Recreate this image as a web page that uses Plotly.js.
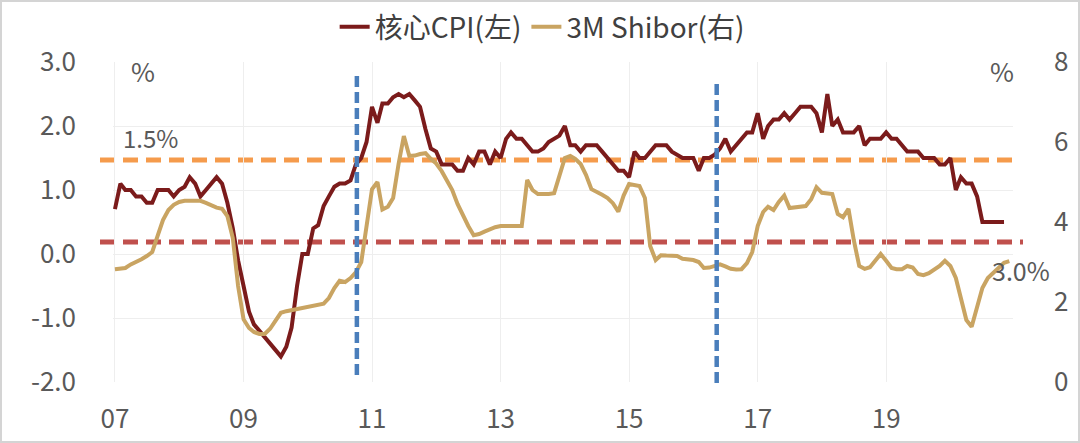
<!DOCTYPE html>
<html>
<head>
<meta charset="utf-8">
<script src="https://cdn.plot.ly/plotly-3.0.1.min.js"></script>
<style>
  html, body { margin: 0; padding: 0; background: #ffffff; }
  #wrap { position: relative; width: 1080px; height: 443px; }
  #chart { width: 1080px; height: 443px; }
  #frame { position: absolute; left: 0; top: 0; width: 1080px; height: 443px; box-sizing: border-box; border: 2px solid #d4d4d4; pointer-events: none; }
</style>
</head>
<body>
<div id="wrap"><div id="chart"></div><div id="frame"></div></div>
<script>
// ---- data ----
const startYear = 2007;
const endYear = 2020;
const months = [];
for (let y = startYear; y <= endYear; y++) {
  for (let m = 1; m <= 12; m++) months.push(y + '-' + String(m).padStart(2, '0') + '-01');
}

// 核心CPI 当月同比, %, 2007-01 .. 2020-11 (left axis)
const coreCPI = [
  0.7, 1.1, 1.0, 1.0, 0.9, 0.9, 0.8, 0.8, 1.0, 1.0, 1.0, 0.9,          // 2007
  1.0, 1.05, 1.2, 1.1, 0.9, 1.0, 1.1, 1.2, 1.1, 0.8, 0.4, -0.1,        // 2008
  -0.5, -0.9, -1.1, -1.2, -1.3, -1.4, -1.5, -1.6, -1.45, -1.15, -0.5, 0.0, // 2009
  0.0, 0.4, 0.45, 0.75, 0.9, 1.05, 1.1, 1.1, 1.15, 1.4, 1.5, 1.75,     // 2010
  2.3, 2.05, 2.35, 2.35, 2.45, 2.5, 2.45, 2.5, 2.4, 2.3, 1.95, 1.65,   // 2011
  1.6, 1.4, 1.4, 1.4, 1.3, 1.3, 1.5, 1.4, 1.6, 1.6, 1.4, 1.6,          // 2012
  1.5, 1.8, 1.9, 1.8, 1.8, 1.7, 1.6, 1.6, 1.65, 1.75, 1.8, 1.85,       // 2013
  2.0, 1.7, 1.7, 1.6, 1.7, 1.7, 1.7, 1.6, 1.5, 1.4, 1.3, 1.3,          // 2014
  1.2, 1.6, 1.5, 1.5, 1.6, 1.7, 1.7, 1.7, 1.6, 1.55, 1.5, 1.5,         // 2015
  1.5, 1.3, 1.5, 1.5, 1.55, 1.65, 1.8, 1.6, 1.7, 1.8, 1.9, 1.9,        // 2016
  2.2, 1.8, 2.0, 2.1, 2.1, 2.2, 2.1, 2.2, 2.3, 2.3, 2.3, 2.2,          // 2017
  1.9, 2.5, 2.0, 2.1, 1.9, 1.9, 1.9, 2.0, 1.7, 1.8, 1.8, 1.8,          // 2018
  1.9, 1.8, 1.8, 1.7, 1.6, 1.6, 1.6, 1.5, 1.5, 1.5, 1.4, 1.4,          // 2019
  1.5, 1.0, 1.2, 1.1, 1.1, 0.9, 0.5, 0.5, 0.5, 0.5, 0.5                // 2020 (to Nov)
];

// 3M Shibor 月均, %, 2007-01 .. 2020-12 (right axis)
const shibor3M = [
  2.82, 2.83, 2.85, 2.94, 3.00, 3.07, 3.15, 3.25, 3.66, 4.05, 4.30, 4.43, // 2007
  4.50, 4.53, 4.53, 4.53, 4.53, 4.48, 4.42, 4.36, 4.33, 4.15, 3.60, 2.40, // 2008
  1.57, 1.35, 1.25, 1.20, 1.20, 1.33, 1.53, 1.73, 1.77, 1.80, 1.83, 1.85, // 2009
  1.89, 1.92, 1.95, 1.96, 2.10, 2.35, 2.53, 2.50, 2.60, 2.74, 3.00, 3.97, // 2010
  4.82, 5.00, 4.31, 4.38, 4.60, 5.45, 6.15, 5.65, 5.66, 5.70, 5.72, 5.58, // 2011
  5.46, 5.27, 5.05, 4.80, 4.45, 4.15, 3.90, 3.67, 3.70, 3.76, 3.82, 3.87, // 2012
  3.90, 3.90, 3.89, 3.89, 3.90, 5.05, 4.80, 4.70, 4.69, 4.70, 4.72, 5.15, // 2013
  5.60, 5.65, 5.58, 5.45, 5.18, 4.82, 4.76, 4.68, 4.60, 4.47, 4.26, 4.66, // 2014
  4.95, 4.93, 4.90, 4.60, 3.40, 3.05, 3.17, 3.16, 3.16, 3.15, 3.08, 3.07, // 2015
  3.05, 3.00, 2.85, 2.86, 2.91, 2.94, 2.89, 2.83, 2.81, 2.82, 2.97, 3.25, // 2016
  3.90, 4.25, 4.38, 4.30, 4.50, 4.66, 4.35, 4.36, 4.38, 4.40, 4.57, 4.87, // 2017
  4.73, 4.72, 4.70, 4.20, 4.12, 4.33, 3.55, 2.90, 2.83, 2.87, 3.03, 3.20, // 2018
  3.03, 2.85, 2.82, 2.82, 2.90, 2.86, 2.70, 2.67, 2.72, 2.80, 2.90, 3.03, // 2019
  2.90, 2.60, 2.10, 1.55, 1.38, 1.85, 2.35, 2.60, 2.72, 2.85, 2.98, 3.02  // 2020
];

const seriesNames = ['核心CPI(左)', '3M Shibor(右)'];
const xTickFormat = '%y';
const leftTickVals = [-2, -1, 0, 1, 2, 3];
const leftTickText = ['-2.0', '-1.0', '0.0', '1.0', '2.0', '3.0'];
const rightTickVals = [0, 2, 4, 6, 8];
const rightTickText = ['0', '2', '4', '6', '8'];
const refCPI = 1.47;        // orange dashed reference, left axis
const refShibor = 3.5;      // red dashed reference, right axis
const eventDates = ['2010-10-07', '2016-05-13'];

// ---- layout helpers (pixel -> paper) ----
const L = 113, R = 1013, T = 62, B = 382;
const px = v => (v - L) / (R - L);
const py = v => (B - v) / (B - T);

const FONT = '"Noto Sans CJK SC", "Noto Sans", sans-serif';
const TXT = '#595959';

const traces = [
  {
    x: months.slice(0, coreCPI.length), y: coreCPI, name: seriesNames[0],
    type: 'scatter', mode: 'lines', yaxis: 'y',
    line: { color: '#7B1B1B', width: 4 }
  },
  {
    x: months.slice(0, shibor3M.length), y: shibor3M, name: seriesNames[1],
    type: 'scatter', mode: 'lines', yaxis: 'y2',
    line: { color: '#C9A462', width: 4 }
  }
];

const shapes = [
  { type: 'line', layer: 'below', xref: 'paper', yref: 'y', x0: px(100), x1: px(1015), y0: refCPI, y1: refCPI,
    line: { color: '#F59B4C', width: 5, dash: '15px,8px' } },
  { type: 'line', layer: 'below', xref: 'paper', yref: 'y2', x0: px(100), x1: px(1023), y0: refShibor, y1: refShibor,
    line: { color: '#C0504D', width: 5, dash: '15px,8px' } },
  { type: 'line', layer: 'above', xref: 'x', yref: 'paper', x0: eventDates[0], x1: eventDates[0], y0: py(375), y1: py(72),
    line: { color: '#4A7EBB', width: 4.5, dash: '11px,5px' } },
  { type: 'line', layer: 'above', xref: 'x', yref: 'paper', x0: eventDates[1], x1: eventDates[1], y0: py(383), y1: py(80),
    line: { color: '#4A7EBB', width: 4.5, dash: '11px,5px' } }
];

const ann = (text, x, y, size) => ({
  text: text, xref: 'paper', yref: 'paper', x: px(x), y: py(y),
  xanchor: 'center', yanchor: 'middle', showarrow: false,
  font: { family: FONT, size: size, color: TXT }
});

const layout = {
  width: 1080, height: 443,
  margin: { l: L, r: 1080 - R, t: T, b: 443 - B, pad: 0 },
  paper_bgcolor: '#ffffff', plot_bgcolor: '#ffffff',
  font: { family: FONT, size: 26, color: TXT },
  showlegend: true,
  legend: {
    orientation: 'h', xref: 'container', yref: 'container',
    x: 0.502, xanchor: 'center', y: 1 - 27 / 443, yanchor: 'middle',
    font: { family: FONT, size: 28, color: '#404040' },
    itemwidth: 30, traceorder: 'normal', bgcolor: 'rgba(0,0,0,0)'
  },
  xaxis: {
    type: 'date', range: ['2006-12-21', '2020-12-22'],
    tick0: '2007-01-01', dtick: 'M24', tickformat: xTickFormat,
    showgrid: true, gridcolor: '#eeeeee', gridwidth: 1,
    showline: false, zeroline: false, ticks: '',
    ticklabelstandoff: 19,
    tickfont: { family: FONT, size: 26, color: TXT }
  },
  yaxis: {
    range: [-2, 3], tickmode: 'array', tickvals: leftTickVals, ticktext: leftTickText,
    showgrid: true, gridcolor: '#eeeeee', gridwidth: 1,
    zeroline: false, showline: false, ticks: '',
    ticklabelstandoff: 36,
    tickfont: { family: FONT, size: 26, color: TXT }
  },
  yaxis2: {
    range: [0, 8], tickmode: 'array', tickvals: rightTickVals, ticktext: rightTickText,
    overlaying: 'y', side: 'right',
    showgrid: false, zeroline: false, showline: false, ticks: '',
    ticklabelstandoff: 40,
    tickfont: { family: FONT, size: 26, color: TXT }
  },
  shapes: shapes,
  annotations: [
    ann('%', 143, 70, 26),
    ann('%', 1002, 70, 26),
    ann('1.5%', 150, 137, 24),
    ann('3.0%', 1021, 270, 25)
  ]
};

Plotly.newPlot('chart', traces, layout, { staticPlot: true, displayModeBar: false });
</script>
</body>
</html>
